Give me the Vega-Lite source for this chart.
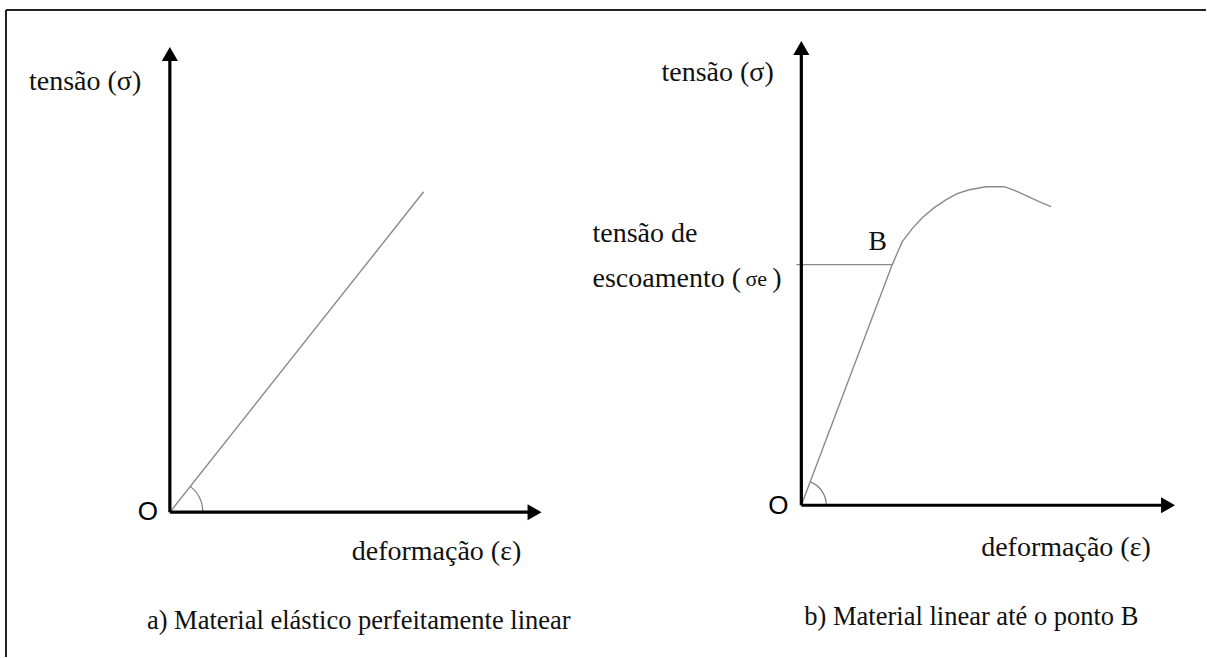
{
  "$schema": "https://vega.github.io/schema/vega-lite/v6.json",
  "autosize": {"type": "fit", "contains": "padding"},
  "width": 1207,
  "height": 658,
  "padding": 0,
  "background": "#ffffff",
  "config": {"view": {"stroke": null}, "axis": {"disable": true}},
  "datasets": {
    "frame": [
      {"x": 6, "y": 648, "x2": 1207, "y2": 648},
      {"x": 6, "y": 0, "x2": 6, "y2": 648}
    ],
    "axes": [
      {"panel": "a", "x": 170, "y": 145, "x2": 170, "y2": 600},
      {"panel": "a", "x": 170, "y": 145, "x2": 532, "y2": 145},
      {"panel": "b", "x": 802, "y": 152, "x2": 802, "y2": 606},
      {"panel": "b", "x": 802, "y": 152, "x2": 1166, "y2": 152}
    ],
    "thin": [
      {"panel": "a", "x": 170, "y": 145, "x2": 424, "y2": 466},
      {"panel": "b", "x": 797, "y": 393, "x2": 893, "y2": 393}
    ],
    "curve": [
      {"o": 1, "x": 802, "y": 152},
      {"o": 2, "x": 893, "y": 393},
      {"o": 3, "x": 903, "y": 416},
      {"o": 4, "x": 913, "y": 429},
      {"o": 5, "x": 923, "y": 440},
      {"o": 6, "x": 935, "y": 450},
      {"o": 7, "x": 947, "y": 458},
      {"o": 8, "x": 958, "y": 464},
      {"o": 9, "x": 970, "y": 468},
      {"o": 10, "x": 987, "y": 471},
      {"o": 11, "x": 1005, "y": 471},
      {"o": 12, "x": 1016, "y": 467},
      {"o": 13, "x": 1027, "y": 462},
      {"o": 14, "x": 1040, "y": 456},
      {"o": 15, "x": 1052, "y": 451}
    ],
    "headsUp": [
      {"panel": "a", "x": 170, "y": 604},
      {"panel": "b", "x": 802, "y": 610}
    ],
    "headsRight": [
      {"panel": "a", "x": 535, "y": 145},
      {"panel": "b", "x": 1169, "y": 152}
    ],
    "origin": [
      {"panel": "a", "x": 148, "y": 145, "text": "O"},
      {"panel": "b", "x": 779, "y": 151, "text": "O"}
    ],
    "labels": [
      {"x": 29, "y": 568, "text": "tensão (σ)"},
      {"x": 662, "y": 577, "text": "tensão (σ)"},
      {"x": 593, "y": 416, "text": "tensão de"},
      {"x": 593, "y": 371, "text": "escoamento ("},
      {"x": 773, "y": 371, "text": ")"},
      {"x": 869, "y": 408, "text": "B"},
      {"x": 352, "y": 97, "text": "deformação (ε)"},
      {"x": 982, "y": 101, "text": "deformação (ε)"}
    ],
    "sub": [
      {"x": 746, "y": 372, "text": "σe"}
    ],
    "captions": [
      {"x": 147, "y": 28, "text": "a) Material elástico perfeitamente linear"},
      {"x": 805, "y": 32, "text": "b) Material linear até o ponto B"}
    ]
  },
  "encoding": {
    "x": {"type": "quantitative", "scale": {"domain": [0, 1207], "nice": false, "zero": false}},
    "y": {"type": "quantitative", "scale": {"domain": [0, 658], "nice": false, "zero": false}}
  },
  "layer": [
    {
      "data": {"name": "frame"},
      "mark": {"type": "rule", "color": "#222222", "strokeWidth": 2},
      "encoding": {"x": {"field": "x"}, "y": {"field": "y"}, "x2": {"field": "x2"}, "y2": {"field": "y2"}}
    },
    {
      "data": {"name": "thin"},
      "mark": {"type": "rule", "color": "#8a8a8a", "strokeWidth": 1.4},
      "encoding": {"x": {"field": "x"}, "y": {"field": "y"}, "x2": {"field": "x2"}, "y2": {"field": "y2"}}
    },
    {
      "data": {"name": "curve"},
      "mark": {"type": "line", "color": "#8a8a8a", "strokeWidth": 1.4, "interpolate": "linear"},
      "encoding": {"x": {"field": "x"}, "y": {"field": "y"}, "order": {"field": "o"}}
    },
    {
      "data": {"values": [{"x": 170, "y": 145}]},
      "mark": {"type": "arc", "fill": "#7a7a7a", "radius": 33.6, "radius2": 32.4, "theta": 0.67, "theta2": 1.5708},
      "encoding": {"x": {"field": "x"}, "y": {"field": "y"}}
    },
    {
      "data": {"values": [{"x": 802, "y": 152}]},
      "mark": {"type": "arc", "fill": "#7a7a7a", "radius": 25.6, "radius2": 24.4, "theta": 0.365, "theta2": 1.5708},
      "encoding": {"x": {"field": "x"}, "y": {"field": "y"}}
    },
    {
      "data": {"name": "axes"},
      "mark": {"type": "rule", "color": "#000000", "strokeWidth": 3.2},
      "encoding": {"x": {"field": "x"}, "y": {"field": "y"}, "x2": {"field": "x2"}, "y2": {"field": "y2"}}
    },
    {
      "data": {"name": "headsUp"},
      "mark": {"type": "point", "shape": "triangle-up", "filled": true, "color": "#000000", "opacity": 1, "size": 260},
      "encoding": {"x": {"field": "x"}, "y": {"field": "y"}}
    },
    {
      "data": {"name": "headsRight"},
      "mark": {"type": "point", "shape": "triangle-right", "filled": true, "color": "#000000", "opacity": 1, "size": 260},
      "encoding": {"x": {"field": "x"}, "y": {"field": "y"}}
    },
    {
      "data": {"name": "origin"},
      "mark": {"type": "text", "font": "Liberation Sans", "fontSize": 26, "align": "center", "baseline": "middle", "color": "#000000"},
      "encoding": {"x": {"field": "x"}, "y": {"field": "y"}, "text": {"field": "text"}}
    },
    {
      "data": {"name": "labels"},
      "mark": {"type": "text", "font": "Liberation Serif", "fontSize": 28, "align": "left", "baseline": "alphabetic", "color": "#111111"},
      "encoding": {"x": {"field": "x"}, "y": {"field": "y"}, "text": {"field": "text"}}
    },
    {
      "data": {"name": "sub"},
      "mark": {"type": "text", "font": "Liberation Serif", "fontSize": 22, "align": "left", "baseline": "alphabetic", "color": "#111111"},
      "encoding": {"x": {"field": "x"}, "y": {"field": "y"}, "text": {"field": "text"}}
    },
    {
      "data": {"name": "captions"},
      "mark": {"type": "text", "font": "Liberation Serif", "fontSize": 26.5, "align": "left", "baseline": "alphabetic", "color": "#111111"},
      "encoding": {"x": {"field": "x"}, "y": {"field": "y"}, "text": {"field": "text"}}
    }
  ]
}
